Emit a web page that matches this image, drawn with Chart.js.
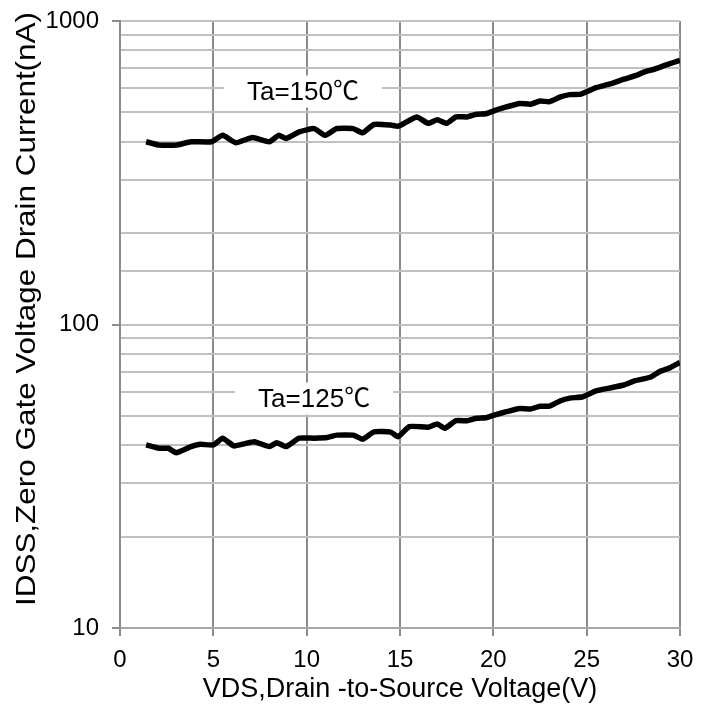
<!DOCTYPE html>
<html>
<head>
<meta charset="utf-8">
<script src="https://cdn.jsdelivr.net/npm/chart.js@4"></script>
<style>
  html, body { margin: 0; padding: 0; background: #fff; }
  #wrap { width: 712px; height: 708px; }
</style>
</head>
<body>
<div id="wrap"><canvas id="chart" width="712" height="708"></canvas></div>
<script>
// Drain voltage (V) and leakage current (nA)
const vds150 = [1.4, 2.1, 3.0, 3.8, 4.9, 5.5, 6.2, 7.1, 8.0, 8.5, 8.9, 9.6, 10.4, 11.0, 11.6, 12.5, 13.0, 13.6, 14.5, 14.9,
  15.9, 16.5, 17.0, 17.5, 18.0, 18.6, 19.1, 19.6, 20.0, 20.7, 21.4, 22.0, 22.5, 23.0, 23.6, 24.1, 24.7, 25.5, 26.2, 27.0,
  27.7, 28.1, 28.6, 29.3, 30.0];
const ids150 = [400, 390, 390, 400, 400, 420, 397, 413, 400, 420, 410, 431, 442, 420, 442, 442, 428, 456, 454, 450,
  483, 460, 473, 460, 483, 483, 493, 495, 505, 521, 535, 532, 545, 542, 562, 572, 574, 603, 619, 643,
  663, 680, 693, 718, 742];

const vds125 = [1.4, 2.1, 2.6, 3.0, 3.8, 4.3, 5.0, 5.5, 6.1, 6.7, 7.2, 8.0, 8.4, 8.9, 9.6, 10.4, 11.1, 11.6, 12.5, 13.0,
  13.6, 14.5, 14.9, 15.5, 16.5, 17.0, 17.4, 18.0, 18.6, 19.1, 19.6, 20.0, 20.7, 21.4, 22.0, 22.5, 23.0, 23.6, 24.1, 24.8,
  25.5, 26.2, 27.0, 27.6, 28.4, 28.9, 29.5, 30.0];
const ids125 = [40.1, 39.1, 39.1, 37.8, 39.6, 40.3, 40.1, 42.2, 39.8, 40.5, 41.1, 39.6, 40.8, 39.6, 42.2, 42.2, 42.4, 43.2, 43.2, 41.9,
  44.3, 44.2, 42.7, 46.1, 45.9, 47.0, 45.5, 48.2, 48.2, 49.1, 49.3, 50.2, 51.6, 52.9, 52.7, 53.8, 53.8, 56.1, 57.2, 57.8,
  60.4, 61.7, 63.2, 65.3, 67.0, 69.9, 72.2, 75.0];

const xTicks = [0, 5, 10, 15, 20, 25, 30];
const yMajor = [10, 100, 1000];
const curveLabels = ['Ta=150\u2103', 'Ta=125\u2103'];
const yTitle = 'IDSS,Zero Gate Voltage Drain Current(nA)';

const FONT = '"Liberation Sans", Arial, "Noto Sans CJK SC", sans-serif';

function toPoints(xs, ys) {
  return xs.map((x, i) => ({ x: x, y: ys[i] }));
}

// White-backed curve labels plus the rotated y title
const labelPlugin = {
  id: 'labels',
  beforeDatasetsDraw(chart) {
    const ctx = chart.ctx;
    const xs = chart.scales.x, ys = chart.scales.y;
    const spots = [{ x: 9.8, y: 586 }, { x: 10.4, y: 57 }];
    ctx.save();
    ctx.font = '26px ' + FONT;
    ctx.textAlign = 'center';
    ctx.textBaseline = 'middle';
    spots.forEach((s, i) => {
      const px = xs.getPixelForValue(s.x);
      const py = ys.getPixelForValue(s.y);
      const w = ctx.measureText(curveLabels[i]).width + 46;
      ctx.fillStyle = '#fff';
      ctx.fillRect(px - w / 2, py - 16, w, 32);
      ctx.fillStyle = '#000';
      ctx.fillText(curveLabels[i], px, py + 1);
    });
    ctx.restore();
  },
  afterDraw(chart) {
    const ctx = chart.ctx;
    ctx.save();
    ctx.font = '28px ' + FONT;
    const stretch = 594 / ctx.measureText(yTitle).width;
    ctx.translate(27, 309);
    ctx.rotate(-Math.PI / 2);
    ctx.scale(stretch, 1);
    ctx.textAlign = 'center';
    ctx.textBaseline = 'middle';
    ctx.fillStyle = '#000';
    ctx.fillText(yTitle, 0, 0);
    ctx.restore();
  }
};

new Chart(document.getElementById('chart'), {
  type: 'line',
  data: {
    datasets: [
      { data: toPoints(vds150, ids150), borderColor: '#000', borderWidth: 5.5, pointRadius: 0, tension: 0.15, fill: false },
      { data: toPoints(vds125, ids125), borderColor: '#000', borderWidth: 5.5, pointRadius: 0, tension: 0.15, fill: false }
    ]
  },
  options: {
    responsive: false,
    animation: false,
    layout: { padding: { top: 21, right: 32, left: 0, bottom: 0 } },
    plugins: { legend: { display: false }, tooltip: { enabled: false } },
    scales: {
      x: {
        type: 'linear',
        min: 0,
        max: 30,
        afterFit: s => { s.height = 80; s.paddingLeft = 0; s.paddingRight = 0; },
        afterBuildTicks: s => { s.ticks = xTicks.map(v => ({ value: v })); },
        ticks: { font: { family: FONT, size: 24 }, color: '#000', padding: 10 },
        grid: { color: '#8c8c8c', lineWidth: 2, tickLength: 8, tickColor: '#8c8c8c' },
        border: { color: '#a6a6a6', width: 2 },
        title: {
          display: true,
          text: 'VDS,Drain -to-Source Voltage(V)',
          font: { family: FONT, size: 27 },
          color: '#000',
          padding: { top: 0, bottom: 2 }
        }
      },
      y: {
        type: 'logarithmic',
        min: 10,
        max: 1000,
        afterFit: s => { s.width = 120; s.paddingTop = 0; s.paddingBottom = 0; },
        ticks: {
          autoSkip: false,
          font: { family: FONT, size: 24 },
          color: '#000',
          padding: 13,
          callback: v => yMajor.includes(v) ? String(v) : ''
        },
        grid: {
          color: '#c0c0c0',
          lineWidth: 2,
          tickLength: 8,
          tickColor: c => (c.tick && yMajor.includes(c.tick.value)) ? '#8c8c8c' : 'rgba(0,0,0,0)'
        },
        border: { color: '#8c8c8c', width: 2 }
      }
    }
  },
  plugins: [labelPlugin]
});
</script>
</body>
</html>
